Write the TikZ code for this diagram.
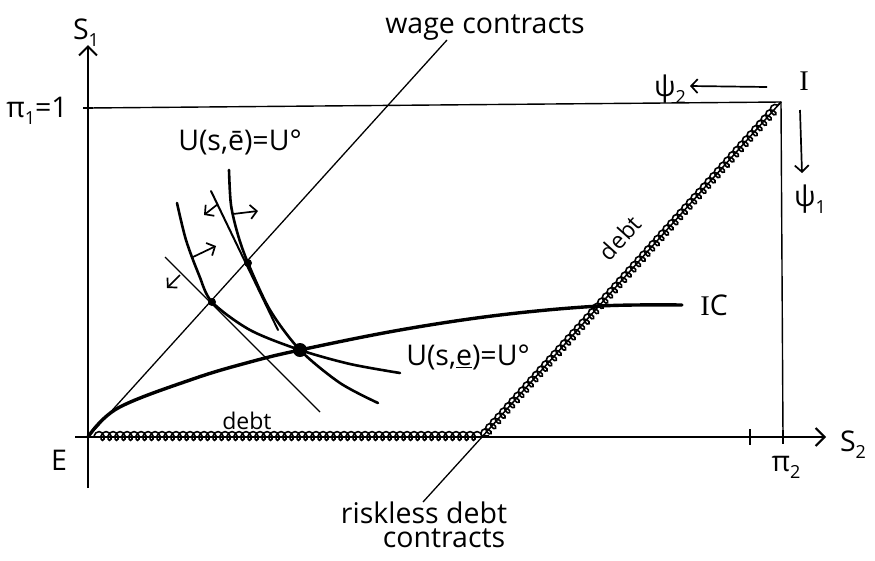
\documentclass[tikz,border=0pt]{standalone}
\usepackage{fontspec}
\setmainfont{Open Sans}
\newfontfamily\serifI{Liberation Serif}
\usetikzlibrary{arrows.meta,decorations.pathmorphing}
\newcommand\lsub[1]{\raisebox{-0.45ex}{\fontsize{18}{18}\selectfont #1}}
\begin{document}
\begin{tikzpicture}[x=1pt,y=-1pt,
  lbl/.style={font=\fontsize{28.5}{30}\selectfont, inner sep=0pt},
  smalllbl/.style={font=\fontsize{23}{25}\selectfont, inner sep=0pt},
  axis/.style={line width=2.2pt, -{Straight Barb[length=9pt,width=18pt,line width=2pt]}},
  frame/.style={line width=1.4pt},
  thinline/.style={line width=1.3pt},
  curve/.style={line width=2.6pt, line cap=round},
  heavy/.style={line width=3.4pt, line cap=round},
  coilline/.style={line width=1.6pt, decorate, decoration={coil, aspect=0.75, segment length=#1, amplitude=4.4pt}},
  smallarrow/.style={line width=1.7pt, -{Straight Barb[length=6.5pt,width=14pt,line width=1.7pt]}}
]
\useasboundingbox (0,0) rectangle (875,560);
% key points
\coordinate (E) at (88,437);
\coordinate (Ytop) at (88,45);
\coordinate (Ybot) at (88,488);
\coordinate (Xl) at (75,437);
\coordinate (Xr) at (826,437);
\coordinate (P1) at (88,108);
\coordinate (I) at (781,102);
\coordinate (P2) at (783,437);
\coordinate (R) at (482,437);
\coordinate (R0) at (94,436);
\coordinate (R1) at (489,436);
\coordinate (W) at (447,40);
\coordinate (A) at (212,302);
\coordinate (B) at (248,263);
\coordinate (C) at (300,350);
\coordinate (RL) at (423,502);
% axes and frame
\draw[axis] (Ybot) -- (Ytop);
\draw[axis] (Xl) -- (Xr);
\draw[frame] (P1) -- (I) -- (P2);
\draw[line width=1.8pt] (83,108) -- (93,108);
\draw[line width=2pt] (750,429) -- (750,445);
\draw[line width=2pt] (783,430) -- (783,444);
% wage contracts line and riskless pointer
\draw[thinline] (E) -- (W);
\draw[thinline] (RL) -- (R);
% debt contracts (coiled)
\draw[line width=1.5pt] (R) -- (I);
\draw[coilline=7pt] (R0) -- (R1);
\draw[coilline=7.01pt] (R) -- (I);
% IC curve
\draw[heavy] plot[smooth, tension=0.6] coordinates {(88,437) (118,408) (193,379) (250,362) (300,350) (400,330) (500,315) (600,306) (682,305)};
% indifference curves
\draw[curve] plot[smooth] coordinates {(177,203) (186,240) (199,275) (212,302) (250,330) (300,350) (350,364) (400,373)};
\draw[curve] plot[smooth] coordinates {(229,170) (231,205) (238,235) (248,263) (270,310) (300,350) (340,383) (378,403)};
\draw[line width=2pt, line cap=round] (211,191) -- (278,330);
\draw[thinline] (165,257) -- (320,412);
\fill (A) circle (4);
\fill (B) circle (4);
\fill (C) circle (7);
% small arrows
\draw[smallarrow] (218,204) -- (204,215);
\draw[smallarrow] (233,214) -- (258,211);
\draw[smallarrow] (193,257) -- (216,246);
\draw[smallarrow] (180,275) -- (167,288);
% psi arrows
\coordinate (q2s) at (767,87);
\coordinate (q2e) at (690,86);
\coordinate (q1s) at (800,110);
\coordinate (q1e) at (802,173);
\draw[smallarrow] (q2s) -- (q2e);
\draw[smallarrow] (q1s) -- (q1e);
% labels
\node[lbl] (s1) at (86,33) {S\lsub{1}};
\node[lbl] (pi1) at (37,111) {π\lsub{1}=1};
\node[lbl] (Ilab) at (804,81) {\serifI I};
\node[lbl] (psi2) at (670,89) {ψ\lsub{2}};
\node[lbl] (psi1) at (810,199) {ψ\lsub{1}};
\node[lbl] (wage) at (485,28) {wage contracts};
\node[lbl] (Ueb) at (240,142) {U(s,\=e)=U°};
\node[lbl] (Uel) at (468,357) {U(s,\underline{e})=U°};
\node[lbl] (IC) at (714,305) {{\serifI I}C};
\node[lbl] (Elab) at (59,460) {E};
\node[lbl] (pi2) at (786,467) {π\lsub{2}};
\node[lbl] (s2) at (853,445) {S\lsub{2}};
\node[lbl] (risk1) at (424,513) {riskless debt};
\node[lbl] (risk2) at (444,538) {contracts};
\node[smalllbl] (debt1) at (247,421) {debt};
\node[smalllbl, rotate=48] (debt2) at (620,238) {debt};
\end{tikzpicture}
\end{document}
